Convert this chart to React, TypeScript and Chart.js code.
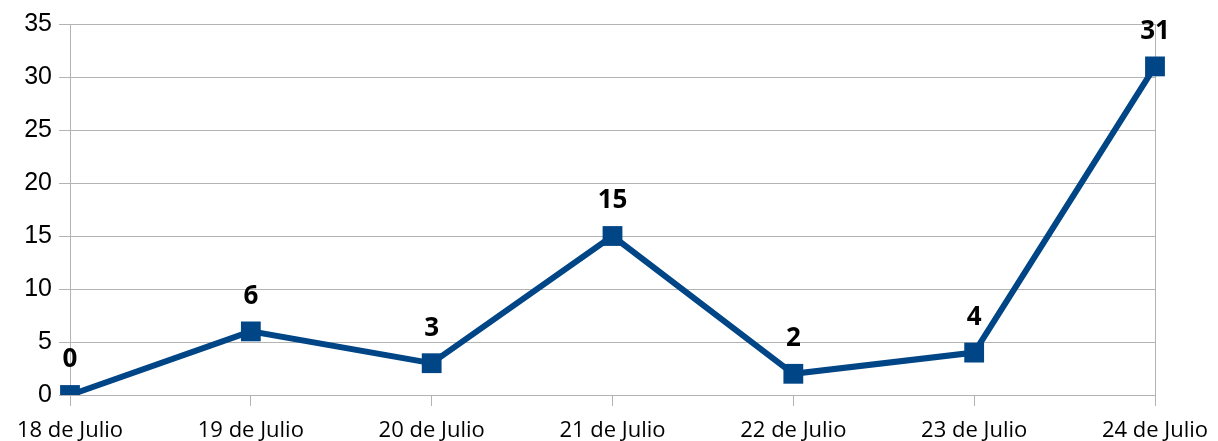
import React, { useEffect, useRef } from "react";
import { Chart, registerables } from "chart.js";

Chart.register(...registerables);

const categories = ["18 de Julio", "19 de Julio", "20 de Julio", "21 de Julio", "22 de Julio", "23 de Julio", "24 de Julio"];
const values = [0, 6, 3, 15, 2, 4, 31];
const yMin = 0;
const yMax = 35;
const yStep = 5;

const GRID = "#b3b3b3";
const LINE = "#004586";

const dataLabels = {
  id: "dataLabels",
  afterDatasetsDraw(chart: any) {
    const ctx = chart.ctx;
    const meta = chart.getDatasetMeta(0);
    const ds = chart.data.datasets[0];
    ctx.save();
    ctx.font = "bold 26px 'Open Sans'";
    ctx.fillStyle = "#000000";
    ctx.textAlign = "center";
    ctx.textBaseline = "middle";
    meta.data.forEach((el: any, i: number) => {
      ctx.fillText(String(ds.data[i]), el.x, el.y - 35);
    });
    ctx.restore();
  },
};

export default function App() {
  const ref = useRef<HTMLCanvasElement>(null);
  useEffect(() => {
    if (!ref.current) return;
    const chart = new Chart(ref.current, {
      type: "line",
      data: {
        labels: categories,
        datasets: [
          {
            data: values,
            borderColor: LINE,
            backgroundColor: LINE,
            borderWidth: 6,
            pointStyle: "rect",
            pointRadius: 14,
            pointHoverRadius: 14,
            pointBorderWidth: 0,
            tension: 0,
          },
        ],
      },
      options: {
        animation: false,
        responsive: false,
        maintainAspectRatio: false,
        layout: { padding: { left: 0, right: 63, top: 24, bottom: 0 } },
        plugins: { legend: { display: false }, tooltip: { enabled: false } },
        scales: {
          x: {
            type: "category",
            offset: false,
            afterFit: (s: any) => {
              s.height = 46;
              s.paddingLeft = 0;
              s.paddingRight = 0;
            },
            grid: {
              color: (c: any) => (c.index === categories.length - 1 ? GRID : "transparent"),
              tickColor: GRID,
              tickLength: 11,
              lineWidth: 1,
            },
            border: { display: true, color: GRID },
            ticks: {
              color: "#000000",
              font: { family: "'Open Sans'", size: 22 },
              padding: 12,
              maxRotation: 0,
              autoSkip: false,
            },
          },
          y: {
            min: yMin,
            max: yMax,
            afterFit: (s: any) => {
              s.width = 70;
            },
            grid: { color: GRID, tickColor: GRID, tickLength: 11, lineWidth: 1 },
            border: { display: true, color: GRID },
            ticks: {
              stepSize: yStep,
              color: "#000000",
              font: { family: "'Liberation Sans'", size: 25 },
              padding: 7,
            },
          },
        },
      },
      plugins: [dataLabels],
    });
    return () => chart.destroy();
  }, []);
  return (
    <div style={{ position: "fixed", left: 0, top: 0, width: 1218, height: 441, background: "#fff" }}>
      <canvas ref={ref} width={1218} height={441} style={{ width: 1218, height: 441 }} />
    </div>
  );
}
